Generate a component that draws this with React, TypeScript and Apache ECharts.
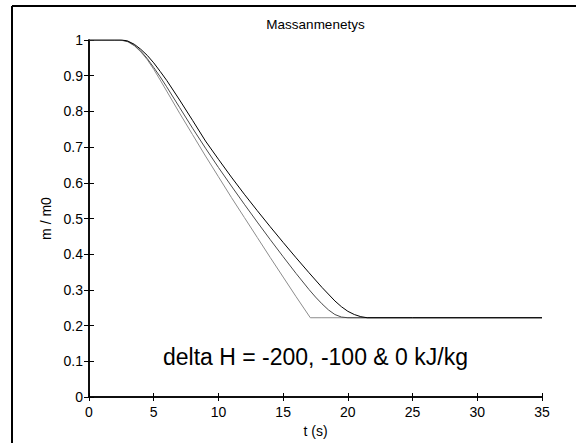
import React, { useEffect, useRef } from 'react';
import * as echarts from 'echarts';

const chartTitle = 'Massanmenetys';
const xAxisName = 't (s)';
const yAxisName = 'm / m0';
const noteText = 'delta H = -200, -100 & 0 kJ/kg';

const xTicks = [0, 5, 10, 15, 20, 25, 30, 35];
const yTicks = [0, 0.1, 0.2, 0.3, 0.4, 0.5, 0.6, 0.7, 0.8, 0.9, 1];

// fastest curve (light gray)
const tLight = [0, 1, 2, 2.4, 3, 3.5, 4, 4.5, 5, 5.5, 6, 7, 8, 9, 10, 11, 12, 13, 14, 15, 16, 17.1, 18, 25, 35];
const mLight = [1, 1, 1, 1, 0.995, 0.984, 0.967, 0.945, 0.918, 0.888, 0.857, 0.795, 0.735, 0.675, 0.617, 0.559, 0.503, 0.447, 0.391, 0.336, 0.281, 0.222, 0.222, 0.222, 0.222];

// middle curve (dark gray)
const tMid = [0, 1, 2, 2.5, 3, 3.5, 4, 4.5, 5, 5.5, 6, 7, 8, 9, 10, 11, 12, 13, 14, 15, 16, 17, 17.5, 18, 18.5, 19, 19.5, 20, 25, 35];
const mMid = [1, 1, 1, 1, 0.996, 0.985, 0.969, 0.948, 0.923, 0.897, 0.869, 0.811, 0.753, 0.697, 0.643, 0.591, 0.54, 0.49, 0.441, 0.393, 0.346, 0.301, 0.28, 0.261, 0.244, 0.231, 0.224, 0.222, 0.222, 0.222];

// slowest curve (black)
const tBlack = [0, 1, 2, 2.6, 3, 3.5, 4, 4.5, 5, 5.5, 6, 7, 8, 9, 10, 11, 12, 13, 14, 15, 16, 17, 18, 19, 19.5, 20, 20.5, 21, 21.5, 25, 35];
const mBlack = [1, 1, 1, 1, 0.997, 0.988, 0.974, 0.957, 0.936, 0.912, 0.887, 0.832, 0.775, 0.717, 0.666, 0.616, 0.568, 0.522, 0.477, 0.433, 0.39, 0.348, 0.307, 0.269, 0.253, 0.24, 0.231, 0.225, 0.222, 0.222, 0.222];

const zip = (t: number[], m: number[]) => t.map((v, i) => [v, m[i]]);

const FONT = 'Liberation Sans, Arial, Helvetica, sans-serif';

export default function App() {
  const ref = useRef<HTMLDivElement>(null);

  useEffect(() => {
    if (!ref.current) return;
    const chart = echarts.init(ref.current, undefined, { renderer: 'svg' });
    const axisLine = { show: true, lineStyle: { color: '#000', width: 1.5 } };
    const lineSeries = (name: string, data: number[][], color: string) => ({
      name,
      type: 'line',
      data,
      showSymbol: false,
      smooth: false,
      lineStyle: { color, width: 1 },
      xAxisIndex: 0,
      yAxisIndex: 0,
      z: 3,
    });
    chart.setOption({
      animation: false,
      backgroundColor: '#fff',
      grid: { left: 89, top: 40, width: 453, height: 357, containLabel: false },
      xAxis: [
        {
          type: 'value',
          min: xTicks[0],
          max: xTicks[xTicks.length - 1],
          interval: 5,
          position: 'bottom',
          name: xAxisName,
          nameLocation: 'middle',
          nameGap: 26,
          nameTextStyle: { fontFamily: FONT, fontSize: 14, color: '#000' },
          axisLine,
          axisTick: { show: true, inside: true, length: 4, lineStyle: { color: '#000' } },
          axisLabel: { fontFamily: FONT, fontSize: 14, color: '#000', margin: 8 },
          splitLine: { show: false },
        },
        {
          type: 'value',
          min: xTicks[0],
          max: xTicks[xTicks.length - 1],
          interval: 5,
          position: 'top',
          axisLine,
          axisTick: { show: true, inside: true, length: 4, lineStyle: { color: '#000' } },
          axisLabel: { show: false },
          splitLine: { show: false },
        },
      ],
      yAxis: [
        {
          type: 'value',
          min: yTicks[0],
          max: yTicks[yTicks.length - 1],
          interval: 0.1,
          position: 'left',
          name: yAxisName,
          nameLocation: 'middle',
          nameRotate: 90,
          nameGap: 35,
          nameTextStyle: { fontFamily: FONT, fontSize: 14, color: '#000' },
          axisLine,
          axisTick: { show: true, inside: true, length: 5, lineStyle: { color: '#000' } },
          axisLabel: {
            fontFamily: FONT,
            fontSize: 14,
            color: '#000',
            margin: 6,
            formatter: (v: number) => String(Math.round(v * 10) / 10),
          },
          splitLine: { show: false },
        },
        {
          type: 'value',
          min: yTicks[0],
          max: yTicks[yTicks.length - 1],
          interval: 0.1,
          position: 'right',
          axisLine,
          axisTick: { show: true, inside: true, length: 5, lineStyle: { color: '#000' } },
          axisLabel: { show: false },
          splitLine: { show: false },
        },
      ],
      series: [
        lineSeries('delta H = -200 kJ/kg', zip(tLight, mLight), '#8c8c8c'),
        lineSeries('delta H = -100 kJ/kg', zip(tMid, mMid), '#4a4a4a'),
        lineSeries('delta H = 0 kJ/kg', zip(tBlack, mBlack), '#000000'),
      ],
      graphic: [
        {
          type: 'line',
          shape: { x1: 12, y1: 6, x2: 576, y2: 6 },
          style: { stroke: '#000', lineWidth: 2 },
        },
        {
          type: 'line',
          shape: { x1: 12, y1: 6, x2: 12, y2: 443 },
          style: { stroke: '#000', lineWidth: 2 },
        },
        {
          type: 'text',
          x: 315.5,
          y: 24,
          style: {
            text: chartTitle,
            fontFamily: FONT,
            fontSize: 13.5,
            fill: '#000',
            textAlign: 'center',
            textVerticalAlign: 'middle',
          },
        },
        {
          type: 'text',
          x: 163,
          y: 357,
          style: {
            text: noteText,
            fontFamily: FONT,
            fontSize: 23,
            fill: '#000',
            textAlign: 'left',
            textVerticalAlign: 'middle',
          },
        },
      ],
    });
    return () => chart.dispose();
  }, []);

  return (
    <div
      ref={ref}
      style={{ position: 'fixed', left: 0, top: 0, width: 576, height: 443, background: '#fff' }}
    />
  );
}
